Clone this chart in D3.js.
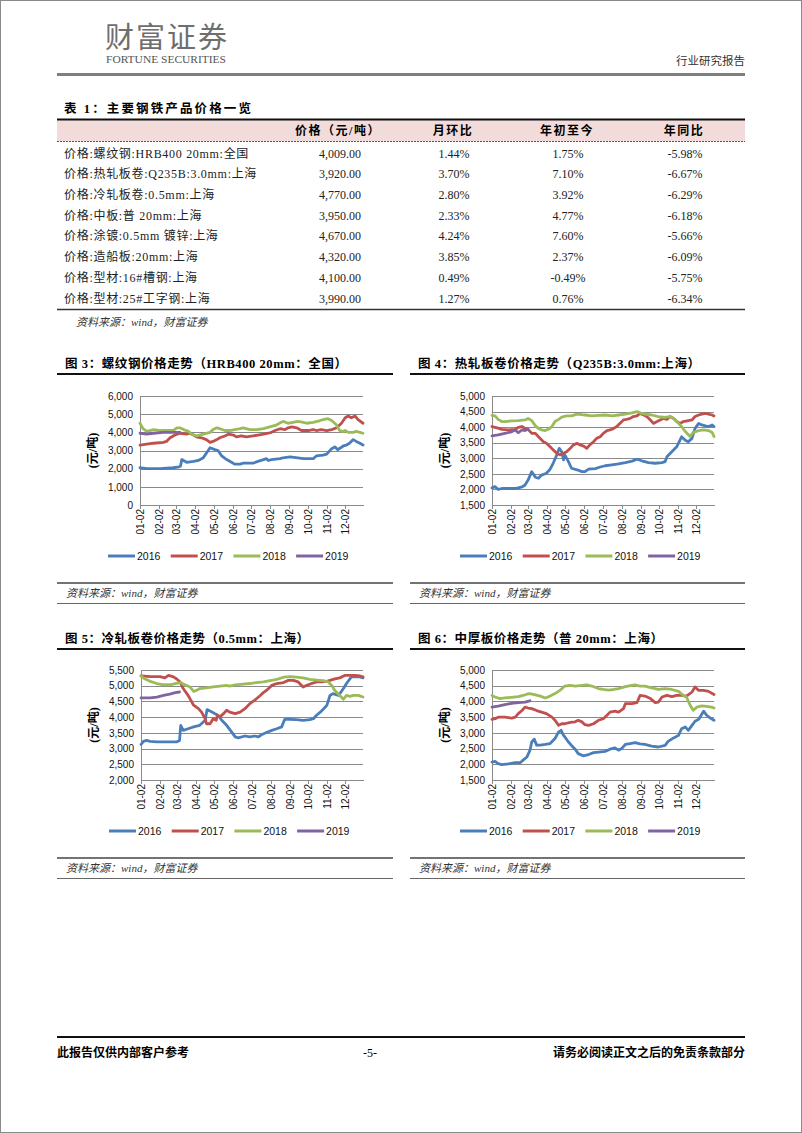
<!DOCTYPE html>
<html lang="zh">
<head>
<meta charset="UTF-8">
<title>主要钢铁产品价格</title>
<script src="https://cdnjs.cloudflare.com/ajax/libs/d3/7.8.5/d3.min.js"></script>
<style>
    body { margin: 0; background: #fff; }
    svg text { font-family: "Liberation Serif", "Noto Sans CJK SC", serif; }
    .axis text { font-family: "Liberation Sans", Arial, sans-serif; font-size: 10px; fill: #111; }
    .axis path, .axis line { stroke: #8a8a8a; shape-rendering: crispEdges; }
    .series { fill: none; stroke-width: 2.8; stroke-linejoin: round; stroke-linecap: round; }
    .legend text { font-family: "Liberation Sans", Arial, sans-serif; font-size: 10.5px; fill: #111; }
    .fig-title { font-size: 12.5px; font-weight: bold; fill: #000; }
    .source { font-size: 11px; font-style: italic; fill: #333; }
    .cell { font-size: 12px; fill: #222; }
    .rowlabel { letter-spacing: 0.7px; }
</style>
</head>
<body>
<svg id="page" width="802" height="1133"></svg>
<script>
// ---- table data ----
const tableHeaders = ["价格（元/吨）", "月环比", "年初至今", "年同比"];
const rowLabels = [
    "价格:螺纹钢:HRB400 20mm:全国",
    "价格:热轧板卷:Q235B:3.0mm:上海",
    "价格:冷轧板卷:0.5mm:上海",
    "价格:中板:普 20mm:上海",
    "价格:涂镀:0.5mm 镀锌:上海",
    "价格:造船板:20mm:上海",
    "价格:型材:16#槽钢:上海",
    "价格:型材:25#工字钢:上海"
];
const prices = [4009, 3920, 4770, 3950, 4670, 4320, 4100, 3990];
const momChange = [1.44, 3.70, 2.80, 2.33, 4.24, 3.85, 0.49, 1.27];
const ytdChange = [1.75, 7.10, 3.92, 4.77, 7.60, 2.37, -0.49, 0.76];
const yoyChange = [-5.98, -6.67, -6.29, -6.18, -5.66, -6.09, -5.75, -6.34];

// ---- chart data: [day of year since 01-02, price] ----
const monthDays = [0, 31, 59, 90, 120, 151, 181, 212, 243, 273, 304, 334];
const monthLabels = ["01-02", "02-02", "03-02", "04-02", "05-02", "06-02", "07-02", "08-02", "09-02", "10-02", "11-02", "12-02"];
const years = ["2016", "2017", "2018", "2019"];
const yearColors = ["#4a7ebb", "#c0504d", "#9bbb59", "#8064a2"];

const rebarTicks = [0, 1000, 2000, 3000, 4000, 5000, 6000];
const hotTicks = [1500, 2000, 2500, 3000, 3500, 4000, 4500, 5000];
const coldTicks = [2000, 2500, 3000, 3500, 4000, 4500, 5000, 5500];
const plateTicks = [1500, 2000, 2500, 3000, 3500, 4000, 4500, 5000];

const rebar2016 = [[0,2050],[11,2000],[33,2000],[54,2050],[64,2100],[66,2150],[68,2500],[76,2350],[87,2400],[95,2450],[103,2600],[107,2800],[111,3000],[114,3150],[122,3050],[127,3000],[133,2700],[141,2500],[149,2350],[154,2250],[163,2250],[168,2300],[179,2300],[184,2300],[192,2400],[201,2500],[206,2550],[209,2450],[214,2500],[228,2550],[233,2600],[244,2650],[257,2600],[266,2550],[274,2550],[282,2550],[287,2700],[298,2750],[304,2800],[312,3100],[317,3200],[322,3050],[331,3250],[336,3300],[341,3400],[347,3600],[352,3500],[358,3400],[363,3300]];
const rebar2017 = [[0,3300],[11,3350],[22,3400],[38,3450],[43,3500],[49,3700],[57,3850],[65,3950],[76,3900],[81,3950],[87,3850],[92,3750],[100,3700],[108,3600],[114,3450],[119,3500],[125,3600],[130,3700],[138,3800],[144,3900],[152,3850],[157,3750],[165,3800],[173,3750],[184,3800],[192,3850],[201,3900],[209,3950],[214,4000],[220,4100],[228,4200],[236,4150],[241,4250],[247,4300],[255,4250],[263,4100],[274,4100],[282,4150],[287,4100],[295,4150],[304,4100],[312,4150],[320,4250],[328,4500],[334,4800],[339,4900],[344,4800],[350,4900],[355,4700],[363,4500]];
const rebar2018 = [[0,4500],[5,4200],[11,4050],[16,4100],[22,4150],[33,4100],[49,4100],[54,4100],[60,4250],[65,4250],[71,4150],[79,4050],[84,3900],[92,3800],[103,3900],[114,4000],[119,4150],[125,4250],[130,4200],[138,4100],[146,4100],[154,4150],[163,4200],[168,4250],[179,4150],[190,4150],[201,4200],[211,4300],[222,4400],[230,4550],[233,4600],[241,4500],[249,4550],[257,4600],[266,4550],[271,4500],[282,4550],[293,4650],[298,4700],[306,4750],[312,4650],[317,4500],[320,4400],[325,4100],[331,4050],[334,4100],[339,4000],[347,4000],[352,4050],[358,4000],[363,3950]];
const rebar2019 = [[0,3950],[11,3900],[22,3950],[38,4000],[49,4000],[60,4000],[65,4000]];

const hot2016 = [[0,2050],[5,2090],[10,2000],[16,2030],[27,2030],[38,2030],[43,2050],[49,2080],[54,2140],[59,2300],[65,2570],[71,2390],[76,2360],[81,2460],[89,2520],[95,2650],[100,2840],[106,3110],[110,3320],[114,3210],[117,2950],[119,3110],[125,2890],[130,2680],[139,2630],[147,2570],[152,2570],[158,2650],[169,2670],[177,2720],[185,2760],[196,2790],[207,2820],[218,2860],[229,2910],[237,2970],[245,2920],[256,2860],[267,2840],[278,2860],[283,2890],[286,3050],[294,3210],[302,3370],[310,3690],[316,3580],[321,3530],[327,3640],[332,3960],[338,4120],[343,4070],[349,4040],[354,4020],[360,4070],[363,4020]];
const hot2017 = [[0,4020],[10,3970],[16,3930],[27,3910],[38,3930],[43,3990],[49,4020],[54,3960],[59,3930],[65,3800],[71,3800],[76,3690],[84,3530],[89,3480],[95,3370],[100,3270],[106,3160],[111,3110],[117,3160],[122,3210],[128,3320],[133,3430],[139,3480],[144,3430],[150,3390],[155,3320],[160,3430],[166,3530],[171,3640],[177,3690],[182,3800],[188,3890],[193,3910],[199,3960],[204,4020],[209,4120],[215,4230],[220,4250],[226,4280],[231,4340],[237,4360],[242,4440],[248,4390],[253,4340],[259,4230],[264,4120],[270,4180],[275,4230],[280,4280],[286,4250],[291,4340],[297,4280],[302,4180],[308,4120],[313,4180],[321,4210],[327,4230],[332,4340],[338,4390],[343,4420],[349,4440],[354,4420],[360,4390],[363,4360]];
const hot2018 = [[0,4380],[5,4360],[10,4250],[16,4180],[21,4180],[32,4200],[43,4210],[54,4230],[59,4280],[65,4210],[71,4040],[76,3960],[81,3910],[87,3890],[92,3930],[98,4020],[103,4180],[109,4250],[114,4320],[122,4360],[130,4360],[139,4420],[147,4400],[152,4390],[163,4360],[174,4380],[185,4390],[196,4360],[207,4390],[218,4420],[229,4460],[237,4500],[242,4460],[250,4420],[261,4390],[272,4340],[283,4310],[291,4340],[297,4280],[302,4180],[310,4020],[316,3860],[324,3700],[329,3830],[338,3890],[346,3910],[354,3890],[360,3830],[363,3700]];
const hot2019 = [[0,3720],[10,3750],[21,3800],[32,3850],[38,3910],[43,3820],[49,3910],[54,3890],[59,3930]];

const cold2016 = [[0,3130],[4,3230],[9,3260],[15,3230],[26,3210],[37,3210],[47,3210],[58,3210],[63,3260],[65,3740],[69,3580],[77,3630],[86,3690],[96,3740],[105,3900],[108,4240],[116,4160],[121,4110],[126,4060],[132,3900],[140,3740],[148,3530],[154,3370],[159,3340],[170,3400],[178,3370],[186,3400],[192,3370],[197,3440],[205,3510],[214,3580],[222,3630],[230,3690],[235,3930],[244,3930],[254,3920],[265,3900],[276,3920],[282,3950],[287,4060],[295,4190],[304,4380],[309,4690],[314,4750],[323,4690],[331,4910],[336,5070],[344,5280],[353,5280],[358,5280],[363,5250]];
const cold2017 = [[0,5310],[15,5290],[31,5290],[39,5250],[45,5330],[53,5280],[58,5220],[64,5120],[69,4910],[75,4750],[80,4590],[86,4380],[94,4270],[99,4160],[105,3950],[107,3790],[113,3790],[118,3950],[123,3900],[125,4060],[129,4010],[135,4110],[140,4220],[145,4160],[154,4110],[162,4160],[170,4270],[178,4430],[186,4540],[195,4690],[200,4780],[205,4850],[214,5010],[222,5070],[233,5100],[241,5170],[249,5170],[257,5120],[265,4960],[271,5010],[279,5070],[287,5120],[295,5120],[304,5140],[309,5170],[317,5220],[325,5250],[334,5330],[342,5330],[350,5330],[358,5310],[363,5280]];
const cold2018 = [[0,5310],[6,5220],[15,5140],[26,5070],[37,5030],[47,5030],[56,5070],[64,5100],[72,5030],[80,4960],[86,4820],[91,4850],[96,4910],[107,4930],[118,4960],[129,4990],[140,5010],[145,4990],[154,5030],[167,5050],[178,5070],[189,5100],[200,5120],[211,5160],[222,5200],[233,5270],[244,5290],[254,5270],[265,5250],[276,5200],[287,5180],[298,5160],[306,5120],[312,5010],[317,4850],[325,4690],[331,4570],[336,4690],[342,4660],[347,4690],[355,4690],[363,4640]];
const cold2019 = [[0,4610],[15,4610],[26,4640],[37,4690],[47,4730],[56,4780],[63,4800]];

const plate2016 = [[0,2070],[5,2090],[10,2020],[16,1990],[27,2010],[38,2050],[46,2050],[51,2130],[57,2230],[62,2440],[65,2710],[69,2800],[73,2610],[79,2610],[87,2630],[95,2660],[103,2820],[109,3030],[113,3080],[117,2920],[119,2870],[125,2710],[130,2600],[136,2480],[141,2340],[149,2270],[158,2310],[166,2370],[174,2390],[185,2410],[193,2480],[201,2520],[207,2450],[212,2500],[218,2630],[226,2660],[234,2690],[242,2650],[250,2630],[261,2580],[272,2550],[283,2600],[288,2730],[297,2840],[305,2920],[310,3130],[316,3190],[321,3080],[327,3240],[332,3370],[338,3430],[346,3690],[351,3560],[357,3470],[363,3400]];
const plate2017 = [[0,3430],[5,3450],[10,3500],[21,3500],[32,3470],[38,3500],[43,3610],[49,3710],[54,3820],[59,3790],[65,3770],[73,3710],[81,3660],[89,3610],[98,3500],[103,3400],[109,3240],[114,3290],[119,3290],[128,3330],[136,3350],[141,3400],[147,3350],[152,3260],[158,3240],[166,3290],[174,3400],[182,3450],[188,3560],[193,3660],[201,3690],[207,3660],[215,3770],[218,3930],[229,3930],[237,3960],[242,4190],[250,4170],[259,4090],[267,3960],[272,3980],[278,4140],[286,4190],[294,4150],[302,4190],[310,4190],[318,4170],[327,4300],[332,4460],[338,4350],[346,4350],[354,4320],[363,4220]];
const plate2018 = [[0,4190],[5,4140],[13,4090],[21,4110],[32,4130],[43,4150],[51,4190],[57,4230],[62,4250],[71,4210],[79,4170],[87,4110],[95,4170],[103,4250],[111,4350],[119,4490],[128,4510],[136,4490],[147,4510],[155,4530],[163,4490],[174,4410],[182,4380],[190,4360],[199,4380],[207,4410],[218,4470],[229,4510],[234,4530],[242,4490],[250,4490],[261,4430],[272,4380],[283,4410],[294,4380],[305,4320],[313,4190],[318,4140],[324,3880],[329,3720],[335,3820],[343,3860],[351,3840],[359,3820],[363,3790]];
const plate2019 = [[0,3820],[10,3850],[21,3900],[32,3940],[43,3960],[54,3980],[62,4020]];

const sourceText = "资料来源：wind，财富证券";

// ---- page ----
const svg = d3.select("#page");
const pageLeft = 57, pageRight = 745;

svg.append("rect")
    .attr("x", 0.5).attr("y", 0.5)
    .attr("width", 801).attr("height", 1132)
    .attr("fill", "#fff").attr("stroke", "#8a8a8a");

// Header
svg.append("text")
    .attr("x", 105).attr("y", 48)
    .attr("font-family", "Noto Sans CJK SC")
    .attr("font-size", 29).attr("fill", "#6e6e6e")
    .attr("textLength", 122).attr("lengthAdjust", "spacing")
    .text("财富证券");
svg.append("text")
    .attr("x", 106).attr("y", 63)
    .attr("font-size", 11).attr("fill", "#555")
    .attr("textLength", 120).attr("lengthAdjust", "spacingAndGlyphs")
    .text("FORTUNE SECURITIES");
svg.append("text")
    .attr("x", pageRight).attr("y", 64.5)
    .attr("text-anchor", "end")
    .attr("font-size", 11.5).attr("fill", "#333")
    .text("行业研究报告");
svg.append("line")
    .attr("x1", pageLeft).attr("x2", pageRight)
    .attr("y1", 74.5).attr("y2", 74.5)
    .attr("stroke", "#7f7f7f").attr("stroke-width", 3);

// Table
svg.append("text")
    .attr("class", "fig-title")
    .attr("x", 64).attr("y", 112.5)
    .attr("textLength", 187).attr("lengthAdjust", "spacing")
    .text("表 1：主要钢铁产品价格一览");

svg.append("rect")
    .attr("x", pageLeft).attr("y", 120)
    .attr("width", pageRight - pageLeft).attr("height", 21)
    .attr("fill", "#f2dcdb");
svg.append("line")
    .attr("x1", pageLeft).attr("x2", pageRight).attr("y1", 119.5).attr("y2", 119.5)
    .attr("stroke", "#111").attr("stroke-width", 2);
svg.append("line")
    .attr("x1", pageLeft).attr("x2", pageRight).attr("y1", 141.5).attr("y2", 141.5)
    .attr("stroke", "#555").attr("stroke-width", 1).attr("stroke-dasharray", "2,1");
svg.append("line")
    .attr("x1", pageLeft).attr("x2", pageRight).attr("y1", 309.5).attr("y2", 309.5)
    .attr("stroke", "#333").attr("stroke-width", 1.5);

const colX = [338, 453, 567, 684];
const rowY = d3.scalePoint().domain(rowLabels).range([153, 298]);

svg.selectAll(".th")
    .data(tableHeaders)
    .join("text")
    .attr("class", "th")
    .attr("x", (d, i) => colX[i]).attr("y", 135)
    .attr("text-anchor", "middle")
    .attr("font-size", 12).attr("font-weight", "bold")
    .attr("letter-spacing", 1.5)
    .text(d => d);

const pct = v => v.toFixed(2) + "%";
const money = d3.format(",.2f");
rowLabels.forEach((label, i) => {
    const yy = rowY(label) + 4.5;
    svg.append("text").attr("class", "cell rowlabel").attr("x", 64).attr("y", yy).text(label);
    [money(prices[i]), pct(momChange[i]), pct(ytdChange[i]), pct(yoyChange[i])].forEach((t, j) => {
        svg.append("text").attr("class", "cell")
            .attr("x", colX[j] + (j === 0 ? 2 : 1)).attr("y", yy)
            .attr("text-anchor", "middle")
            .text(t);
    });
});

svg.append("text")
    .attr("class", "source")
    .attr("x", 76).attr("y", 326)
    .attr("font-size", 12)
    .text(sourceText);

// ---- charts ----
const charts = [
    { title: "图 3：螺纹钢价格走势（HRB400 20mm：全国）", titleW: 282, x0: 57, x1: 393, tx: 65,
      left: 140, right: 363, top: 396, bottom: 505, rowTop: 363,
      yTicks: rebarTicks, series: [rebar2016, rebar2017, rebar2018, rebar2019] },
    { title: "图 4：热轧板卷价格走势（Q235B:3.0mm:上海）", titleW: 282, x0: 410, x1: 745, tx: 418,
      left: 492, right: 714, top: 396, bottom: 505, rowTop: 363,
      yTicks: hotTicks, series: [hot2016, hot2017, hot2018, hot2019] },
    { title: "图 5：冷轧板卷价格走势（0.5mm：上海）", titleW: 244, x0: 57, x1: 393, tx: 65,
      left: 141, right: 363, top: 670, bottom: 780, rowTop: 638,
      yTicks: coldTicks, series: [cold2016, cold2017, cold2018, cold2019] },
    { title: "图 6：中厚板价格走势（普 20mm：上海）", titleW: 245, x0: 410, x1: 745, tx: 418,
      left: 492, right: 714, top: 670, bottom: 780, rowTop: 638,
      yTicks: plateTicks, series: [plate2016, plate2017, plate2018, plate2019] }
];

function drawChart(c) {
    const g = svg.append("g");
    const x = d3.scaleLinear().domain([0, 363]).range([c.left, c.right]);
    const y = d3.scaleLinear().domain(d3.extent(c.yTicks)).range([c.bottom, c.top]);

    // Title and rule
    g.append("text")
        .attr("class", "fig-title")
        .attr("x", c.tx).attr("y", c.rowTop + 4.5)
        .attr("textLength", c.titleW).attr("lengthAdjust", "spacing")
        .text(c.title);
    g.append("line")
        .attr("x1", c.x0).attr("x2", c.x1)
        .attr("y1", c.rowTop + 11).attr("y2", c.rowTop + 11)
        .attr("stroke", "#111").attr("stroke-width", 2);

    // Y axis with gridlines
    g.append("g")
        .attr("class", "axis")
        .attr("transform", `translate(${c.left},0)`)
        .call(d3.axisLeft(y)
            .tickValues(c.yTicks)
            .tickFormat(d3.format(","))
            .tickSize(-(c.right - c.left))
            .tickSizeOuter(0)
            .tickPadding(7));

    // X axis, labels turned upright
    g.append("g")
        .attr("class", "axis")
        .attr("transform", `translate(0,${c.bottom})`)
        .call(d3.axisBottom(x)
            .tickValues(monthDays)
            .tickFormat((d, i) => monthLabels[i])
            .tickSize(4)
            .tickSizeOuter(0))
        .selectAll("text")
        .attr("transform", "rotate(-90)")
        .attr("x", -4)
        .attr("y", 0)
        .attr("dy", "0.35em")
        .style("text-anchor", "end");

    // Y axis label
    g.append("text")
        .attr("transform", `translate(${c.left - 43},${(c.top + c.bottom) / 2}) rotate(-90)`)
        .attr("text-anchor", "middle")
        .attr("font-family", "Noto Sans CJK SC")
        .attr("font-size", 12).attr("font-weight", "bold")
        .text("(元/吨)");

    // Lines
    const line = d3.line()
        .x(d => x(d[0]))
        .y(d => y(d[1]));
    c.series.forEach((s, i) => {
        g.append("path")
            .datum(s)
            .attr("class", "series")
            .attr("stroke", yearColors[i])
            .attr("d", line);
    });

    // Legend
    const legendY = c.rowTop + 193;
    const lg = g.append("g").attr("class", "legend");
    years.forEach((yr, i) => {
        const lx = c.left - 32 + i * 62.7;
        lg.append("line")
            .attr("x1", lx).attr("x2", lx + 27)
            .attr("y1", legendY).attr("y2", legendY)
            .attr("stroke", yearColors[i]).attr("stroke-width", 3);
        lg.append("text")
            .attr("x", lx + 29).attr("y", legendY + 4)
            .text(yr);
    });

    // Source block
    const s1 = c.rowTop + 220;
    g.append("line")
        .attr("x1", c.x0).attr("x2", c.x1).attr("y1", s1).attr("y2", s1)
        .attr("stroke", "#444").attr("stroke-width", 1.5);
    g.append("text")
        .attr("class", "source")
        .attr("x", c.tx + 1).attr("y", s1 + 14)
        .text(sourceText);
    g.append("line")
        .attr("x1", c.x0).attr("x2", c.x1).attr("y1", s1 + 20.5).attr("y2", s1 + 20.5)
        .attr("stroke", "#666").attr("stroke-width", 1);
}

charts.forEach(drawChart);

// Footer
svg.append("line")
    .attr("x1", pageLeft).attr("x2", pageRight)
    .attr("y1", 1037).attr("y2", 1037)
    .attr("stroke", "#111").attr("stroke-width", 2);
svg.append("text")
    .attr("x", pageLeft).attr("y", 1056.5)
    .attr("font-size", 12).attr("font-weight", "bold")
    .text("此报告仅供内部客户参考");
svg.append("text")
    .attr("x", 370).attr("y", 1056.5)
    .attr("text-anchor", "middle")
    .attr("font-size", 12)
    .text("-5-");
svg.append("text")
    .attr("x", pageRight).attr("y", 1056.5)
    .attr("text-anchor", "end")
    .attr("font-size", 12).attr("font-weight", "bold")
    .text("请务必阅读正文之后的免责条款部分");
</script>
</body>
</html>
